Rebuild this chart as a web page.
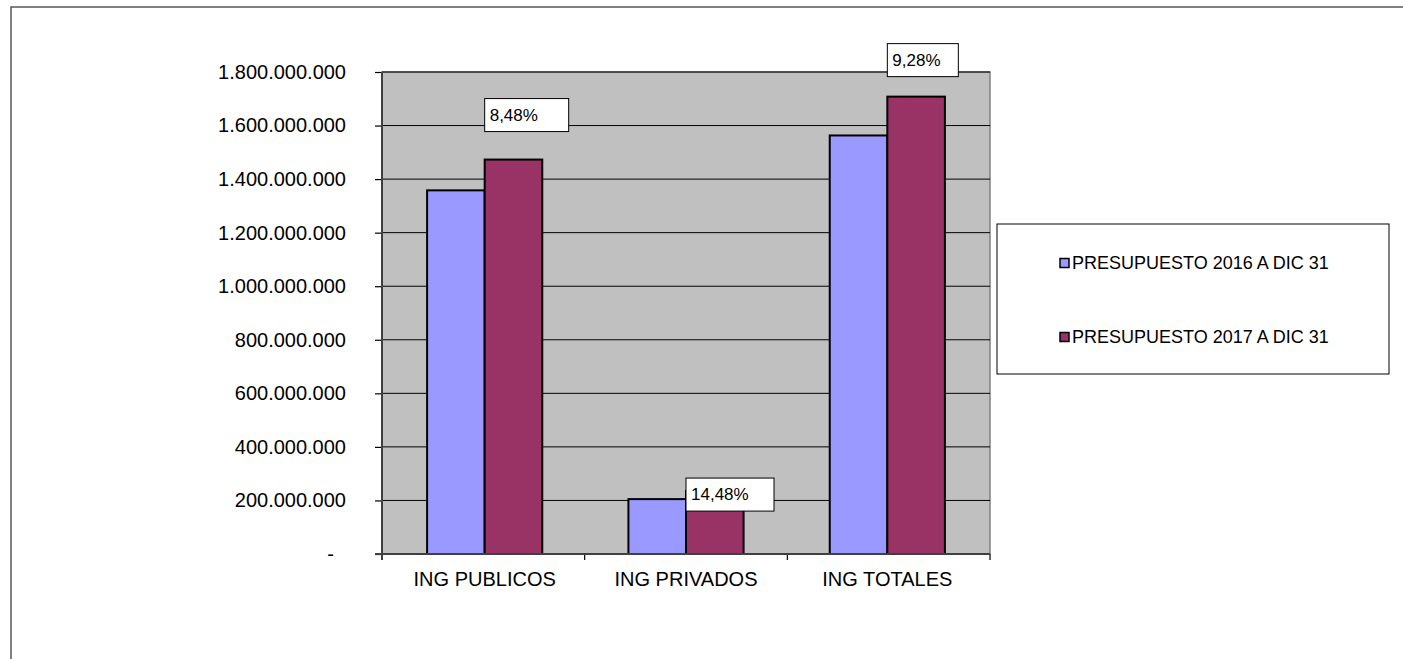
<!DOCTYPE html>
<html>
<head>
<meta charset="utf-8">
<script src="https://cdn.jsdelivr.net/npm/d3@7"></script>
<style>
  body { margin: 0; background: #fff; }
  svg { display: block; font-family: Arial, "Liberation Sans", sans-serif; }
</style>
</head>
<body>
<div id="chart"></div>
<script>
// Chart data
const categories = ["ING PUBLICOS", "ING PRIVADOS", "ING TOTALES"];
const seriesNames = ["PRESUPUESTO 2016 A DIC 31", "PRESUPUESTO 2017 A DIC 31"];
const values2016 = [1358000000, 205000000, 1563000000];
const values2017 = [1473000000, 235000000, 1708000000];
const pctLabels = ["8,48%", "14,48%", "9,28%"];
const yTicks = [0, 200000000, 400000000, 600000000, 800000000, 1000000000,
  1200000000, 1400000000, 1600000000, 1800000000];

document.addEventListener("DOMContentLoaded", function () {
  const width = 1403,
    height = 659;
  const colors = ["#9999FF", "#993366"];

  // plot area box
  const plot = { left: 382, right: 990, top: 72, bottom: 554 };

  // manual label placement (as in the source sheet)
  const labelDy = [-61, -13, -53];
  const labelW = [84, 88, 71];
  const labelH = 33;

  const svg = d3
    .select("#chart")
    .append("svg")
    .attr("width", width)
    .attr("height", height);

  // outer chart frame (runs off the right/bottom edge)
  svg
    .append("rect")
    .attr("x", 11)
    .attr("y", 7)
    .attr("width", width + 20)
    .attr("height", height + 20)
    .attr("fill", "#fff")
    .attr("stroke", "#555")
    .attr("stroke-width", 1.5);

  const x = d3
    .scaleBand()
    .domain(categories)
    .range([plot.left, plot.right])
    .paddingInner(0.428)
    .paddingOuter(0.224);

  const xSub = d3
    .scaleBand()
    .domain([0, 1])
    .range([0, x.bandwidth()]);

  const y = d3
    .scaleLinear()
    .domain([0, 1800000000])
    .range([plot.bottom, plot.top]);

  // plot background
  svg
    .append("rect")
    .attr("x", plot.left)
    .attr("y", plot.top)
    .attr("width", plot.right - plot.left)
    .attr("height", plot.bottom - plot.top)
    .attr("fill", "#C0C0C0")
    .attr("stroke", "#808080")
    .attr("stroke-width", 1.5);

  // gridlines
  svg
    .append("g")
    .selectAll("line")
    .data(yTicks.filter((d) => d > 0))
    .join("line")
    .attr("x1", plot.left)
    .attr("x2", plot.right)
    .attr("y1", (d) => y(d))
    .attr("y2", (d) => y(d))
    .attr("stroke", "#000")
    .attr("stroke-width", 1);

  // y axis
  const yAxis = svg
    .append("g")
    .attr("transform", `translate(${plot.left},0)`)
    .call(
      d3
        .axisLeft(y)
        .tickValues(yTicks)
        .tickSize(7)
        .tickPadding(29)
        .tickFormat((d) => (d === 0 ? "-" : d3.format(",")(d).replace(/,/g, ".")))
    );
  yAxis.select(".domain").remove();
  yAxis.selectAll(".tick line").attr("stroke", "#000").attr("stroke-width", 1.2);
  yAxis
    .selectAll(".tick text")
    .attr("font-size", "20px")
    .attr("font-family", "Arial, 'Liberation Sans', sans-serif")
    .attr("fill", "#000")
    .attr("dx", (d) => (d === 0 ? -12 : 0));

  // x axis: ticks between categories
  const xTickPos = d3.range(categories.length + 1).map((i) => plot.left + (i * (plot.right - plot.left)) / categories.length);
  svg
    .append("g")
    .selectAll("line")
    .data(xTickPos)
    .join("line")
    .attr("x1", (d) => d)
    .attr("x2", (d) => d)
    .attr("y1", plot.bottom)
    .attr("y2", plot.bottom + 6)
    .attr("stroke", "#000")
    .attr("stroke-width", 1.2);

  svg
    .append("g")
    .selectAll("text")
    .data(categories)
    .join("text")
    .attr("x", (d) => x(d) + x.bandwidth() / 2)
    .attr("y", 586)
    .attr("text-anchor", "middle")
    .attr("font-size", "20px")
    .attr("fill", "#000")
    .text((d) => d);

  // bars
  const seriesValues = [values2016, values2017];
  seriesValues.forEach((vals, s) => {
    svg
      .append("g")
      .selectAll("rect")
      .data(vals)
      .join("rect")
      .attr("x", (d, i) => x(categories[i]) + xSub(s))
      .attr("y", (d) => y(d))
      .attr("width", xSub.bandwidth())
      .attr("height", (d) => y(0) - y(d))
      .attr("fill", colors[s])
      .attr("stroke", "#000")
      .attr("stroke-width", 2);
  });

  // axis lines on top
  svg
    .append("line")
    .attr("x1", plot.left)
    .attr("x2", plot.left)
    .attr("y1", plot.top)
    .attr("y2", plot.bottom + 6)
    .attr("stroke", "#404040")
    .attr("stroke-width", 2);
  svg
    .append("line")
    .attr("x1", plot.left - 7)
    .attr("x2", plot.right)
    .attr("y1", plot.bottom)
    .attr("y2", plot.bottom)
    .attr("stroke", "#404040")
    .attr("stroke-width", 2);

  // percentage labels
  const labels = svg
    .append("g")
    .selectAll("g")
    .data(pctLabels)
    .join("g")
    .attr("transform", (d, i) => {
      const bx = x(categories[i]) + xSub(1);
      const by = y(values2017[i]) + labelDy[i];
      return `translate(${bx},${by})`;
    });
  labels
    .append("rect")
    .attr("width", (d, i) => labelW[i])
    .attr("height", labelH)
    .attr("fill", "#fff")
    .attr("stroke", "#000")
    .attr("stroke-width", 1);
  labels
    .append("text")
    .attr("x", 5)
    .attr("y", labelH / 2)
    .attr("dy", "0.33em")
    .attr("font-size", "17px")
    .attr("fill", "#000")
    .text((d) => d);

  // legend
  const legend = svg.append("g").attr("transform", "translate(997,224)");
  legend
    .append("rect")
    .attr("width", 392)
    .attr("height", 150)
    .attr("fill", "#fff")
    .attr("stroke", "#000")
    .attr("stroke-width", 1);
  const items = legend
    .selectAll("g")
    .data(seriesNames)
    .join("g")
    .attr("transform", (d, i) => `translate(63,${39 + i * 74})`);
  items
    .append("rect")
    .attr("x", 0)
    .attr("y", -4.5)
    .attr("width", 9)
    .attr("height", 9)
    .attr("fill", (d, i) => colors[i])
    .attr("stroke", "#000")
    .attr("stroke-width", 1.5);
  items
    .append("text")
    .attr("x", 12)
    .attr("y", 0)
    .attr("dy", "0.35em")
    .attr("font-size", "18px")
    .attr("fill", "#000")
    .text((d) => d);
});
</script>
</body>
</html>
